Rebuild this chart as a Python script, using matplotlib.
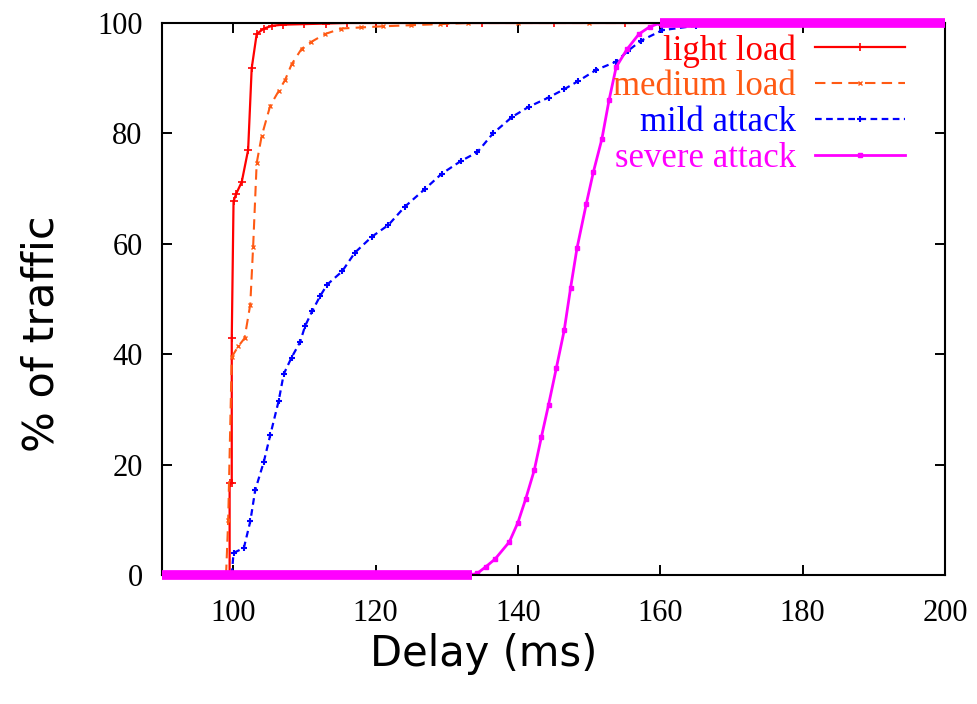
import matplotlib
matplotlib.use("Agg")
import matplotlib.pyplot as plt
import numpy as np

# CDF of packet delay for each traffic scenario (delay in ms, % of traffic)
light_x = [99.3, 99.5, 99.5, 99.8, 99.8, 100.05, 100.4, 101.2, 102.1, 102.6, 103.3,
           104.3, 105.5, 107, 110, 113, 116, 120, 125, 130, 135, 145, 155, 200]
light_y = [0, 0, 16.6, 16.6, 42.9, 67.7, 69, 71.2, 77, 91.8, 98,
           99, 99.5, 99.7, 99.8, 99.9, 100, 100, 100, 100, 100, 100, 100, 100]

medium_x = [99.0, 99.3, 99.8, 100.7, 101.6, 102.4, 102.8, 103.3, 104.0, 105.2, 106.4,
            107.3, 108.2, 109.6, 111.0, 112.9, 115.2, 118, 121, 125, 129, 133, 140, 150, 200]
medium_y = [0, 10, 39.5, 41.4, 42.9, 49, 59.4, 74.6, 79.5, 85, 87.7,
            89.7, 92.5, 95.3, 96.6, 98, 99, 99.2, 99.4, 99.6, 99.8, 100, 100, 100, 100]

mild_x = [99.8, 100.05, 101.5, 102.4, 103.1, 104.3, 105.2, 106.4, 107.1, 108.2, 109.4,
          110.1, 111.1, 112.2, 113.2, 115.3, 117.1, 119.5, 121.8, 124.1, 127, 129.3,
          132, 134.3, 136.5, 139.2, 141.5, 144.3, 146.5, 148.5, 151, 153.8, 155.5,
          157.3, 160.3, 165, 170, 176, 200]
mild_y = [0, 4, 4.9, 9.7, 15.4, 20.5, 25.3, 31.6, 36.4, 39.4, 42.2,
          45.1, 47.8, 50.5, 52.6, 55, 58.4, 61.3, 63.4, 66.7, 70, 72.7,
          75, 76.6, 80, 83, 84.8, 86.5, 88, 89.5, 91.5, 93, 95,
          96.8, 98.7, 99.5, 99.8, 100, 100]

severe_x = [90, 133.5, 134.3, 135.5, 136.8, 138.8, 140, 141.1, 142.3, 143.3, 144.3,
            145.4, 146.5, 147.4, 148.3, 149.6, 150.6, 151.8, 152.8, 153.8, 155.3,
            157.0, 158.5, 160, 200]
severe_y = [0, 0, 0.3, 1.5, 2.9, 6, 9.5, 13.8, 19, 25, 30.8,
            37.5, 44.3, 52, 59.2, 67.2, 73, 79, 86, 92, 95.2,
            98.0, 99.3, 100, 100]

labels = ["light load", "medium load", "mild attack", "severe attack"]
colors = ["#ff0000", "#ff5a14", "#0000ff", "#ff00ff"]

x_ticks = [100, 120, 140, 160, 180, 200]
y_ticks = [0, 20, 40, 60, 80, 100]

tick_font = "Liberation Serif"

fig = plt.figure(figsize=(9.77, 7.04), dpi=100)
ax = fig.add_axes([162 / 977, 1 - 575 / 704, 783 / 977, 552 / 704])

ax.plot(light_x, light_y, color=colors[0], lw=1.6, ls="-",
        marker="+", ms=6, mew=1.2, label=labels[0])
ax.plot(medium_x, medium_y, color=colors[1], lw=1.5, ls=(0, (5, 3)),
        marker="x", ms=3, mew=1.0, label=labels[1])
ax.plot(mild_x, mild_y, color=colors[2], lw=1.6, ls=(0, (3, 2)),
        marker="+", ms=5, mew=1.5, label=labels[2])
ax.plot(severe_x, severe_y, color=colors[3], lw=2.0, ls="-",
        marker="s", ms=3.5, label=labels[3])

# flat parts of the severe curve are drawn heavier (dense sample points)
sx = np.array(severe_x)
sy = np.array(severe_y)
for level in (0, 100):
    m = sy == level
    ax.plot(sx[m], sy[m], color=colors[3], lw=7, solid_capstyle="butt",
            clip_on=False, zorder=3)

ax.set_xlim(90, 200)
ax.set_ylim(0, 100)
ax.set_xticks(x_ticks)
ax.set_yticks(y_ticks)
ax.tick_params(direction="in", length=7, width=1.4, top=True, right=True,
               labelsize=22)
ax.tick_params(axis="x", pad=17)
ax.tick_params(axis="y", pad=14)
for lab in ax.get_xticklabels() + ax.get_yticklabels():
    lab.set_family(tick_font)
for s in ax.spines.values():
    s.set_linewidth(1.5)

leg = ax.legend(loc="upper right", bbox_to_anchor=(0.949, 0.980), frameon=False,
                markerfirst=False, prop={"family": tick_font, "size": 25},
                handlelength=2.6, handletextpad=0.55, labelspacing=0.08,
                borderaxespad=0.0, numpoints=1, borderpad=0.0)
for txt, c in zip(leg.get_texts(), colors):
    txt.set_color(c)

fig.text(42 / 977, 1 - 334 / 704, "% of traffic", rotation=90,
         ha="center", va="center", fontsize=31, family="DejaVu Sans")
fig.text(484 / 977, 1 - 654 / 704, "Delay (ms)",
         ha="center", va="center", fontsize=30, family="DejaVu Sans")

fig.savefig("out.png", dpi=100)
